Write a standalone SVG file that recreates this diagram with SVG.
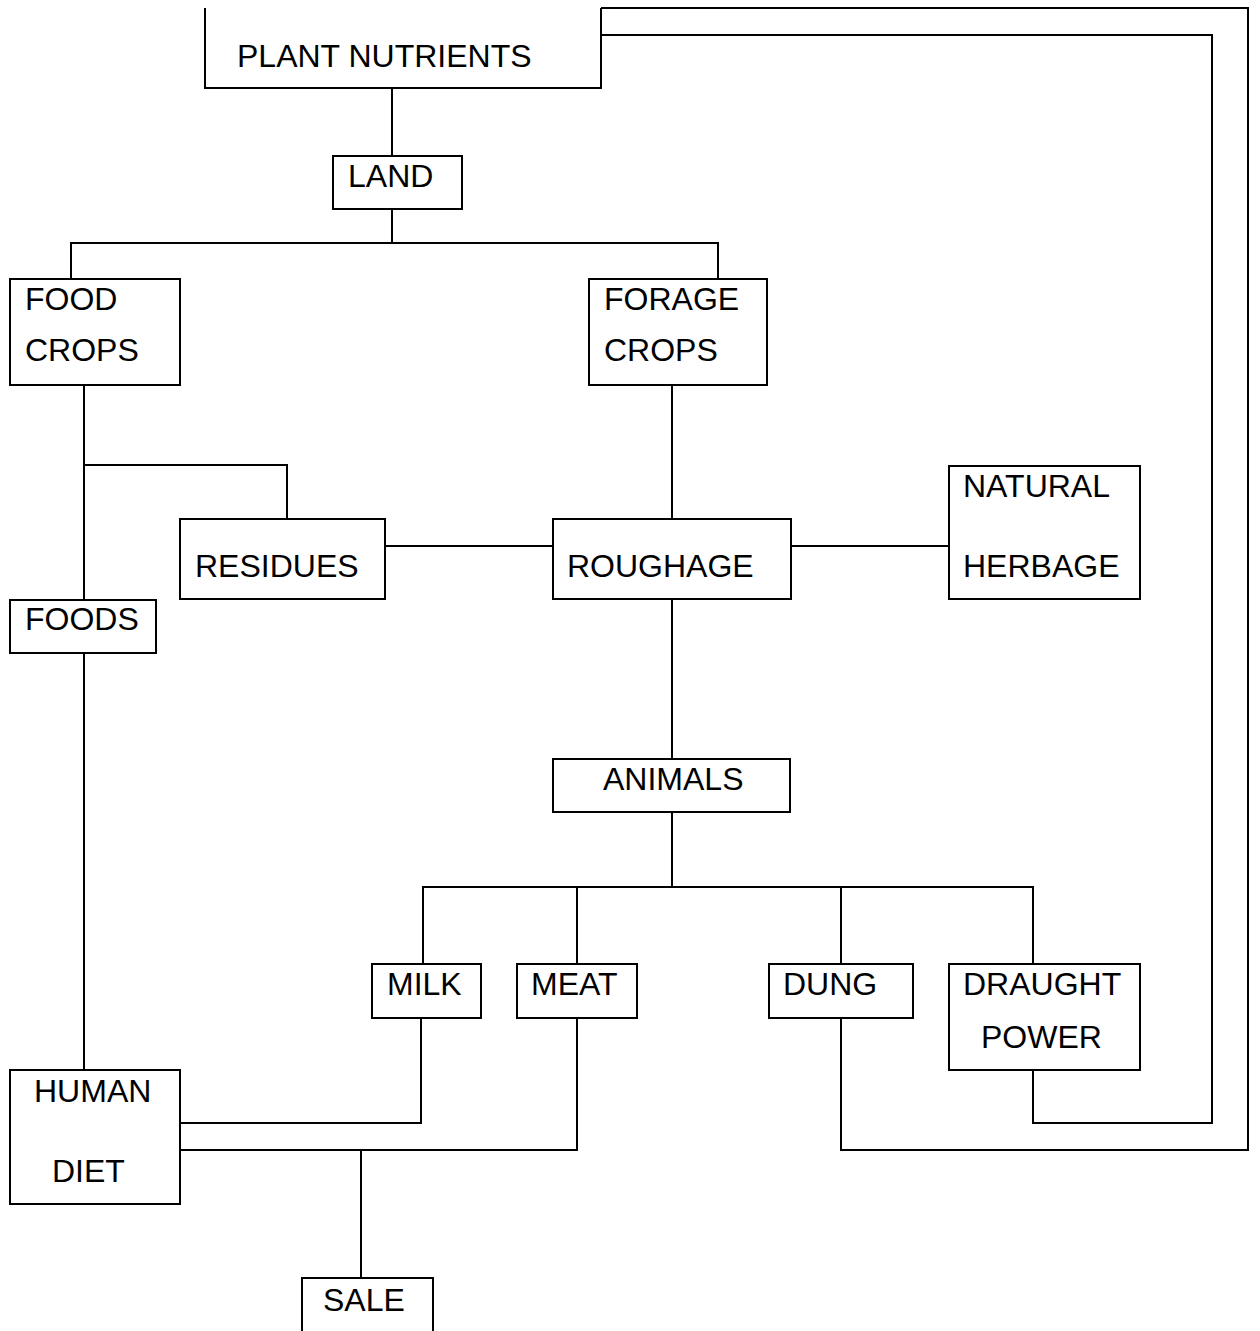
<svg xmlns="http://www.w3.org/2000/svg" width="1260" height="1331" viewBox="0 0 1260 1331">
<style>
.b{fill:none;stroke:#000;stroke-width:2}
.c{fill:none;stroke:#000;stroke-width:2;stroke-linejoin:miter}
text{font-family:"Liberation Sans",Arial,sans-serif;font-size:32px;fill:#000}
</style>
<rect width="1260" height="1331" fill="#fff"/>
<g id="connectors">
<path class="c" d="M392,88V156"/>
<path class="c" d="M392,209V243M71,279V243H718V279"/>
<path class="c" d="M84,385V600M84,465H287V519"/>
<path class="c" d="M672,385V519"/>
<path class="c" d="M385,546H553M791,546H949"/>
<path class="c" d="M672,599V759"/>
<path class="c" d="M672,812V887M423,964V887H1033V964M577,887V964M841,887V964"/>
<path class="c" d="M84,653V1070"/>
<path class="c" d="M421,1018V1123H180"/>
<path class="c" d="M577,1018V1150H180M361,1150V1278"/>
<path class="c" d="M841,1018V1150H1248V8H601"/>
<path class="c" d="M1033,1070V1123H1212V35H601"/>
</g>
<g id="plant-nutrients">
<path class="b" d="M205,8V88H601V8"/>
<text x="237" y="67">PLANT NUTRIENTS</text>
</g>
<g id="land">
<rect class="b" x="333" y="156" width="129" height="53"/>
<text x="348" y="187">LAND</text>
</g>
<g id="food-crops">
<rect class="b" x="10" y="279" width="170" height="106"/>
<text x="25" y="310">FOOD</text>
<text x="25" y="361">CROPS</text>
</g>
<g id="forage-crops">
<rect class="b" x="589" y="279" width="178" height="106"/>
<text x="604" y="310">FORAGE</text>
<text x="604" y="361">CROPS</text>
</g>
<g id="residues">
<rect class="b" x="180" y="519" width="205" height="80"/>
<text x="195" y="577">RESIDUES</text>
</g>
<g id="roughage">
<rect class="b" x="553" y="519" width="238" height="80"/>
<text x="567" y="577">ROUGHAGE</text>
</g>
<g id="natural-herbage">
<rect class="b" x="949" y="466" width="191" height="133"/>
<text x="963" y="497">NATURAL</text>
<text x="963" y="577">HERBAGE</text>
</g>
<g id="foods">
<rect class="b" x="10" y="600" width="146" height="53"/>
<text x="25" y="630">FOODS</text>
</g>
<g id="animals">
<rect class="b" x="553" y="759" width="237" height="53"/>
<text x="603" y="790">ANIMALS</text>
</g>
<g id="milk">
<rect class="b" x="372" y="964" width="109" height="54"/>
<text x="387" y="995">MILK</text>
</g>
<g id="meat">
<rect class="b" x="517" y="964" width="120" height="54"/>
<text x="531" y="995">MEAT</text>
</g>
<g id="dung">
<rect class="b" x="769" y="964" width="144" height="54"/>
<text x="783" y="995">DUNG</text>
</g>
<g id="draught-power">
<rect class="b" x="949" y="964" width="191" height="106"/>
<text x="963" y="995">DRAUGHT</text>
<text x="981" y="1048">POWER</text>
</g>
<g id="human-diet">
<rect class="b" x="10" y="1070" width="170" height="134"/>
<text x="34" y="1102">HUMAN</text>
<text x="52" y="1182">DIET</text>
</g>
<g id="sale">
<path class="b" d="M302,1331V1278H433V1331"/>
<text x="323" y="1311">SALE</text>
</g>
</svg>
